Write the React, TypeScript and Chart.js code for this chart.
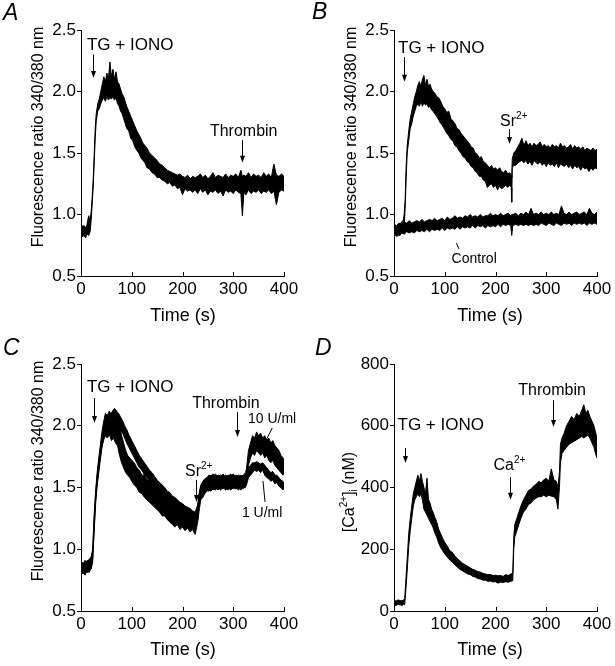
import React, { useEffect, useRef } from 'react';
import { Chart, registerables } from 'chart.js';

Chart.register(...registerables);

type Pt = [number, number, number]; // [time s, lower edge, upper edge]

const X_TICKS = [0, 100, 200, 300, 400];
const RATIO_TICKS = [0.5, 1.0, 1.5, 2.0, 2.5];
const CA_TICKS = [0, 200, 400, 600, 800];

// Panel A: 340/380 ratio, TG + IONO then thrombin
const A_TRACE: Pt[] = [
  [0,0.84,0.93],[3,0.82,0.90],[6,0.83,0.91],[9,0.81,0.89],[12,0.84,0.92],[15,0.83,0.99],[18,0.86,0.96],[20,0.95,1.02],
  [22,1.08,1.14],[24,1.22,1.28],[26,1.42,1.48],[28,1.62,1.70],[30,1.76,1.82],[33,1.84,1.90],[36,1.86,1.94],[39,1.90,2.00],
  [42,1.93,2.06],[45,1.95,2.12],[48,1.92,2.08],[51,1.96,2.15],[54,1.93,2.10],[57,1.95,2.24],[60,1.94,2.12],[63,1.96,2.18],
  [66,1.93,2.10],[69,1.95,2.16],[72,1.90,2.08],[75,1.88,2.06],[78,1.84,2.02],[81,1.82,1.98],[84,1.78,1.96],[87,1.74,1.92],
  [90,1.70,1.88],[94,1.68,1.84],[98,1.62,1.80],[102,1.60,1.76],[106,1.55,1.72],[110,1.52,1.68],[114,1.50,1.65],[118,1.46,1.62],
  [122,1.44,1.58],[126,1.42,1.56],[130,1.38,1.54],[135,1.37,1.50],[140,1.34,1.48],[145,1.33,1.46],[150,1.30,1.44],[155,1.30,1.41],
  [160,1.28,1.40],[165,1.27,1.38],[170,1.25,1.36],[175,1.26,1.35],[180,1.23,1.34],[185,1.24,1.33],[190,1.21,1.32],[195,1.22,1.33],
  [200,1.16,1.31],[205,1.21,1.30],[210,1.19,1.32],[215,1.20,1.29],[220,1.18,1.31],[225,1.20,1.30],[230,1.17,1.31],[235,1.21,1.33],
  [240,1.18,1.30],[245,1.20,1.32],[250,1.16,1.29],[255,1.19,1.31],[260,1.18,1.34],[265,1.20,1.30],[270,1.17,1.32],[275,1.19,1.31],
  [280,1.15,1.30],[285,1.20,1.33],[290,1.18,1.30],[295,1.19,1.32],[300,1.17,1.31],[305,1.20,1.33],[310,1.18,1.30],[315,1.17,1.36],
  [318,0.99,1.31],[321,1.18,1.32],[325,1.16,1.31],[330,1.20,1.34],[335,1.17,1.30],[340,1.19,1.33],[345,1.18,1.31],[350,1.20,1.32],
  [355,1.17,1.30],[360,1.19,1.34],[365,1.18,1.31],[370,1.20,1.33],[375,1.17,1.30],[380,1.19,1.41],[385,1.08,1.32],[390,1.18,1.31],
  [395,1.20,1.33],[400,1.19,1.31],
];

// Panel B: TG + IONO then Sr2+, and control
const B_TRACE: Pt[] = [
  [0,0.82,0.92],[3,0.84,0.91],[6,0.82,0.90],[9,0.84,0.92],[12,0.83,0.91],[15,0.85,0.94],[18,0.86,0.95],[20,0.90,1.00],
  [22,1.05,1.12],[24,1.30,1.40],[26,1.50,1.56],[29,1.60,1.68],[32,1.70,1.78],[35,1.74,1.84],[38,1.80,1.90],[41,1.84,1.96],
  [44,1.88,2.00],[47,1.90,2.05],[50,1.88,2.08],[53,1.92,2.04],[56,1.88,2.10],[59,1.91,2.13],[62,1.89,2.05],[65,1.90,2.10],
  [68,1.87,2.04],[71,1.88,2.06],[74,1.85,2.02],[77,1.84,2.00],[80,1.82,1.99],[84,1.80,1.96],[88,1.77,1.95],[92,1.74,1.92],
  [96,1.72,1.88],[100,1.69,1.86],[104,1.66,1.83],[108,1.64,1.84],[112,1.61,1.78],[116,1.60,1.76],[120,1.56,1.74],[124,1.55,1.70],
  [128,1.52,1.69],[132,1.50,1.66],[136,1.47,1.64],[140,1.46,1.62],[144,1.43,1.60],[148,1.42,1.58],[152,1.39,1.55],[156,1.38,1.54],
  [160,1.35,1.50],[164,1.34,1.49],[168,1.31,1.46],[172,1.31,1.47],[176,1.28,1.43],[180,1.27,1.42],[184,1.22,1.40],[188,1.24,1.38],
  [192,1.25,1.40],[196,1.22,1.37],[200,1.24,1.38],[204,1.20,1.36],[208,1.23,1.38],[212,1.21,1.35],[216,1.22,1.34],[220,1.24,1.36],
  [224,1.22,1.33],[228,1.24,1.34],[231,1.22,1.32],[232,1.10,1.30],[233,1.38,1.45],[236,1.40,1.50],[240,1.40,1.52],[244,1.42,1.55],
  [248,1.43,1.58],[252,1.44,1.62],[256,1.42,1.56],[260,1.44,1.60],[264,1.41,1.56],[268,1.43,1.58],[272,1.40,1.55],[276,1.44,1.58],
  [280,1.42,1.56],[284,1.41,1.57],[288,1.43,1.59],[292,1.40,1.55],[296,1.42,1.57],[300,1.39,1.55],[304,1.42,1.56],[308,1.40,1.54],
  [312,1.41,1.57],[316,1.39,1.55],[320,1.42,1.56],[324,1.38,1.54],[328,1.41,1.58],[332,1.40,1.55],[336,1.39,1.56],[340,1.41,1.54],
  [344,1.38,1.55],[348,1.40,1.57],[352,1.37,1.53],[356,1.40,1.56],[360,1.38,1.54],[364,1.39,1.55],[368,1.36,1.53],[372,1.39,1.55],
  [376,1.37,1.52],[380,1.38,1.54],[384,1.35,1.53],[388,1.38,1.52],[392,1.36,1.54],[396,1.38,1.52],[400,1.37,1.53],
];

const B_CONTROL: Pt[] = [
  [0,0.82,0.92],[5,0.84,0.91],[10,0.83,0.93],[15,0.85,0.92],[20,0.84,0.94],[25,0.86,0.93],[30,0.85,0.95],[35,0.86,0.93],
  [40,0.85,0.94],[45,0.87,0.95],[50,0.86,0.94],[55,0.87,0.96],[60,0.86,0.94],[65,0.88,0.95],[70,0.86,0.96],[75,0.88,0.95],
  [80,0.87,0.97],[85,0.88,0.95],[90,0.87,0.96],[95,0.89,0.97],[100,0.87,0.95],[105,0.89,0.98],[110,0.88,0.96],[115,0.89,0.97],
  [120,0.88,0.99],[125,0.90,0.97],[130,0.88,0.98],[135,0.90,0.97],[140,0.89,0.99],[145,0.90,0.98],[150,0.89,1.00],[155,0.91,0.98],
  [160,0.89,0.99],[165,0.91,0.98],[170,0.90,1.00],[175,0.91,0.98],[180,0.89,0.99],[185,0.91,0.99],[190,0.90,1.01],[195,0.91,0.99],
  [200,0.90,1.00],[205,0.92,0.99],[210,0.90,1.01],[215,0.92,0.99],[220,0.91,1.00],[225,0.92,1.01],[230,0.91,0.99],[232,0.83,1.00],
  [234,0.91,1.00],[240,0.92,1.01],[245,0.91,0.99],[250,0.92,1.01],[255,0.91,1.00],[260,0.92,1.02],[265,0.91,1.00],[270,0.92,1.05],
  [275,0.91,1.00],[280,0.92,1.01],[285,0.91,1.00],[290,0.93,1.02],[295,0.92,1.00],[300,0.91,1.01],[305,0.93,1.00],[310,0.92,1.02],
  [315,0.91,1.00],[320,0.93,1.01],[325,0.92,1.00],[330,0.91,1.07],[335,0.93,1.01],[340,0.92,1.00],[345,0.93,1.02],[350,0.91,1.00],
  [355,0.93,1.01],[360,0.92,1.02],[365,0.93,1.00],[370,0.92,1.01],[375,0.93,1.02],[380,0.91,1.00],[385,0.93,1.05],[390,0.92,1.01],
  [395,0.93,1.00],[400,0.92,1.02],
];

// Panel C: two cells, thrombin 10 U/ml and 1 U/ml
const C_10U: Pt[] = [
  [0,0.82,0.90],[4,0.80,0.88],[8,0.83,0.91],[12,0.81,0.89],[16,0.83,0.92],[20,0.84,0.93],[23,0.90,0.98],[26,1.15,1.25],
  [29,1.38,1.46],[32,1.52,1.60],[35,1.62,1.70],[38,1.72,1.80],[41,1.82,1.90],[44,1.88,1.97],[47,1.94,2.04],[50,1.96,2.06],
  [54,1.98,2.10],[58,1.97,2.08],[62,2.00,2.12],[66,2.02,2.14],[70,2.00,2.12],[74,1.98,2.10],[78,1.96,2.07],[82,1.94,2.04],
  [86,1.90,2.00],[90,1.86,1.97],[95,1.82,1.92],[100,1.78,1.88],[105,1.74,1.84],[110,1.70,1.80],[115,1.66,1.76],[120,1.64,1.73],
  [125,1.60,1.70],[130,1.58,1.67],[135,1.54,1.64],[140,1.52,1.62],[145,1.49,1.59],[150,1.47,1.56],[155,1.44,1.54],[160,1.42,1.52],
  [165,1.40,1.50],[170,1.37,1.47],[175,1.36,1.46],[180,1.33,1.43],[185,1.32,1.42],[190,1.30,1.40],[195,1.28,1.38],[200,1.27,1.37],
  [205,1.25,1.35],[210,1.24,1.34],[215,1.23,1.33],[220,1.21,1.31],[225,1.20,1.30],[230,1.24,1.36],[233,1.36,1.46],[236,1.42,1.52],
  [240,1.44,1.55],[244,1.46,1.57],[248,1.48,1.58],[252,1.47,1.60],[256,1.50,1.59],[260,1.48,1.61],[265,1.50,1.58],[270,1.48,1.60],
  [275,1.50,1.59],[280,1.49,1.61],[285,1.50,1.58],[290,1.48,1.60],[295,1.50,1.59],[300,1.49,1.61],[305,1.50,1.58],[310,1.48,1.60],
  [315,1.50,1.59],[320,1.49,1.60],[324,1.52,1.62],[326,1.55,1.65],[330,1.68,1.80],[334,1.74,1.86],[338,1.78,1.92],[342,1.76,1.90],
  [346,1.80,1.95],[350,1.78,1.92],[354,1.76,1.94],[358,1.78,1.90],[362,1.74,1.92],[366,1.76,1.88],[370,1.72,1.90],[374,1.70,1.86],
  [378,1.72,1.88],[382,1.68,1.84],[386,1.66,1.82],[390,1.64,1.80],[394,1.62,1.76],[398,1.60,1.74],[400,1.62,1.72],
];

const C_1U: Pt[] = [
  [0,0.80,0.90],[4,0.82,0.89],[8,0.79,0.88],[12,0.83,0.91],[16,0.81,0.90],[20,0.85,0.94],[23,0.92,1.00],[26,1.18,1.28],
  [29,1.40,1.48],[32,1.55,1.63],[35,1.65,1.74],[38,1.74,1.84],[41,1.82,1.94],[44,1.88,2.02],[48,1.92,2.10],[52,1.90,2.08],
  [56,1.93,2.12],[60,1.88,2.08],[64,1.90,2.10],[68,1.86,2.06],[72,1.84,2.04],[76,1.76,2.00],[80,1.70,1.92],[84,1.66,1.86],
  [88,1.62,1.80],[92,1.60,1.76],[96,1.58,1.74],[100,1.55,1.72],[105,1.52,1.70],[110,1.50,1.66],[115,1.46,1.64],[120,1.45,1.60],
  [125,1.42,1.60],[130,1.40,1.56],[135,1.38,1.55],[140,1.36,1.52],[145,1.34,1.50],[150,1.32,1.48],[155,1.30,1.46],[160,1.27,1.45],
  [165,1.27,1.42],[170,1.24,1.40],[175,1.22,1.40],[180,1.20,1.38],[185,1.18,1.36],[190,1.20,1.35],[195,1.16,1.34],[200,1.18,1.32],
  [205,1.15,1.33],[210,1.17,1.30],[215,1.14,1.31],[220,1.16,1.30],[225,1.12,1.28],[230,1.22,1.34],[233,1.32,1.44],[236,1.40,1.50],
  [240,1.42,1.54],[244,1.45,1.56],[248,1.47,1.57],[252,1.48,1.58],[256,1.47,1.60],[260,1.49,1.59],[265,1.48,1.61],[270,1.50,1.58],
  [275,1.48,1.60],[280,1.50,1.58],[285,1.48,1.60],[290,1.50,1.59],[295,1.48,1.61],[300,1.50,1.58],[305,1.49,1.60],[310,1.50,1.59],
  [315,1.48,1.60],[320,1.50,1.58],[324,1.50,1.60],[326,1.52,1.60],[330,1.58,1.66],[334,1.60,1.68],[338,1.62,1.70],[342,1.64,1.70],
  [346,1.63,1.71],[350,1.64,1.70],[354,1.62,1.69],[358,1.64,1.70],[362,1.60,1.68],[366,1.58,1.66],[370,1.57,1.64],[374,1.55,1.62],
  [378,1.56,1.63],[382,1.53,1.60],[386,1.54,1.60],[390,1.51,1.58],[394,1.50,1.56],[398,1.48,1.55],[400,1.50,1.54],
];

// Panel D: [Ca2+]i in nM
const D_TRACE: Pt[] = [
  [0,20,35],[4,18,32],[8,22,36],[12,20,34],[16,18,33],[19,22,36],[21,20,40],[23,60,90],[26,130,170],[29,210,250],[32,260,300],
  [35,300,340],[38,340,380],[41,360,400],[44,370,420],[47,380,440],[50,370,420],[53,380,445],[56,360,420],[59,330,400],[62,320,380],
  [65,310,430],[68,300,360],[71,290,350],[74,280,330],[77,270,320],[80,255,305],[84,240,290],[88,220,265],[92,205,250],[96,195,235],
  [100,185,222],[105,175,210],[110,165,195],[115,158,190],[120,150,178],[125,142,170],[130,135,162],[135,130,155],[140,125,150],
  [145,120,145],[150,118,140],[155,112,135],[160,110,132],[165,105,128],[170,104,126],[175,100,122],[180,100,120],[185,96,118],
  [190,97,118],[195,94,115],[200,95,116],[205,90,114],[210,94,115],[215,92,112],[220,95,118],[225,93,115],[230,96,120],[234,98,122],
  [236,200,240],[238,240,280],[242,260,300],[246,280,320],[250,300,340],[255,320,360],[260,330,375],[265,345,390],[270,350,395],
  [275,360,405],[280,365,410],[285,370,420],[290,370,415],[295,375,425],[300,370,430],[305,375,420],[310,372,460],[315,370,425],
  [320,360,420],[323,330,400],[326,400,450],[328,480,540],[331,510,560],[335,520,575],[340,530,600],[345,540,615],[350,545,630],
  [355,550,620],[360,555,640],[365,560,630],[370,565,650],[374,560,668],[378,565,640],[382,570,650],[386,560,630],[390,545,615],
  [394,530,600],[397,510,580],[400,495,560],
];

const W = 615;
const H = 666;
const YW = 40;
const XH = 30;
const FONT = "'Liberation Sans', Arial, Helvetica, sans-serif";

type Part = { t: string; sup?: boolean; sub?: boolean };
type Label = { parts: Part[]; t: number; v: number; size: number; align?: 'left' | 'center' };
type Arrow = { t: number; v1: number; v2: number };
type Seg = { t1: number; v1: number; t2: number; v2: number };

interface Panel {
  letter: string;
  letterPos: [number, number];
  area: { left: number; right: number; top: number; bottom: number };
  yTicks: number[];
  yDecimals: number;
  yTitle: Part[];
  yTitlePos: [number, number];
  xTitlePos: [number, number];
  traces: Pt[][];
  labels: Label[];
  arrows: Arrow[];
  segs: Seg[];
}

const RATIO_TITLE: Part[] = [{ t: 'Fluorescence ratio 340/380 nm' }];

const PANELS: Panel[] = [
  {
    letter: 'A', letterPos: [3, 20],
    area: { left: 81, right: 284, top: 30, bottom: 276 },
    yTicks: RATIO_TICKS, yDecimals: 1, yTitle: RATIO_TITLE, yTitlePos: [37.5, 137], xTitlePos: [183, 315],
    traces: [A_TRACE],
    labels: [
      { parts: [{ t: 'TG + IONO' }], t: 11.8, v: 2.34, size: 17 },
      { parts: [{ t: 'Thrombin' }], t: 254, v: 1.64, size: 16 },
    ],
    arrows: [{ t: 24, v1: 2.30, v2: 2.11 }, { t: 318, v1: 1.606, v2: 1.42 }],
    segs: [],
  },
  {
    letter: 'B', letterPos: [312, 19],
    area: { left: 394, right: 597, top: 30, bottom: 276 },
    yTicks: RATIO_TICKS, yDecimals: 1, yTitle: RATIO_TITLE, yTitlePos: [350, 137], xTitlePos: [490, 315],
    traces: [B_TRACE, B_CONTROL],
    labels: [
      { parts: [{ t: 'TG + IONO' }], t: 7.9, v: 2.31, size: 17 },
      { parts: [{ t: 'Sr' }, { t: '2+', sup: true }], t: 209, v: 1.72, size: 16 },
      { parts: [{ t: 'Control' }], t: 158, v: 0.606, size: 14, align: 'center' },
    ],
    arrows: [{ t: 20, v1: 2.28, v2: 2.08 }, { t: 227, v1: 1.695, v2: 1.573 }],
    segs: [{ t1: 123, v1: 0.768, t2: 128, v2: 0.72 }],
  },
  {
    letter: 'C', letterPos: [3, 355],
    area: { left: 81, right: 284, top: 364, bottom: 611 },
    yTicks: RATIO_TICKS, yDecimals: 1, yTitle: RATIO_TITLE, yTitlePos: [37.5, 471], xTitlePos: [183, 649],
    traces: [C_10U, C_1U],
    labels: [
      { parts: [{ t: 'TG + IONO' }], t: 11.8, v: 2.273, size: 17 },
      { parts: [{ t: 'Thrombin' }], t: 219, v: 2.144, size: 16 },
      { parts: [{ t: 'Sr' }, { t: '2+', sup: true }], t: 205, v: 1.593, size: 16 },
      { parts: [{ t: '10 U/ml' }], t: 329, v: 2.022, size: 14 },
      { parts: [{ t: '1 U/ml' }], t: 317, v: 1.261, size: 14 },
    ],
    arrows: [{ t: 26, v1: 2.225, v2: 2.022 }, { t: 308, v1: 2.111, v2: 1.909 }, { t: 227, v1: 1.561, v2: 1.383 }],
    segs: [{ t1: 376.8, v1: 1.982, t2: 363, v2: 1.868 }, { t1: 362.6, v1: 1.383, t2: 358.6, v2: 1.553 }],
  },
  {
    letter: 'D', letterPos: [315, 355],
    area: { left: 394, right: 597, top: 364, bottom: 611 },
    yTicks: CA_TICKS, yDecimals: 0,
    yTitle: [{ t: '[Ca' }, { t: '2+', sup: true }, { t: ']' }, { t: 'i', sub: true }, { t: ' (nM)' }],
    yTitlePos: [348, 492], xTitlePos: [490, 649],
    traces: [D_TRACE],
    labels: [
      { parts: [{ t: 'TG + IONO' }], t: 6.9, v: 586, size: 17 },
      { parts: [{ t: 'Ca' }, { t: '2+', sup: true }], t: 196, v: 457, size: 16 },
      { parts: [{ t: 'Thrombin' }], t: 245, v: 700, size: 16 },
    ],
    arrows: [{ t: 21, v1: 528, v2: 479 }, { t: 228, v1: 434, v2: 360 }, { t: 314, v1: 683, v2: 596 }],
    segs: [],
  },
];

function partFont(p: Part, size: number) {
  const s = p.sup || p.sub ? Math.round(size * 0.65) : size;
  return `${s}px ${FONT}`;
}

function richWidth(ctx: CanvasRenderingContext2D, parts: Part[], size: number) {
  let w = 0;
  for (const p of parts) {
    ctx.font = partFont(p, size);
    w += ctx.measureText(p.t).width;
  }
  return w;
}

function drawRich(ctx: CanvasRenderingContext2D, parts: Part[], x: number, y: number, size: number, align: 'left' | 'center') {
  let cx = align === 'center' ? x - richWidth(ctx, parts, size) / 2 : x;
  ctx.textAlign = 'left';
  ctx.textBaseline = 'alphabetic';
  for (const p of parts) {
    ctx.font = partFont(p, size);
    const dy = p.sup ? -size * 0.42 : p.sub ? size * 0.22 : 0;
    ctx.fillText(p.t, cx, y + dy);
    cx += ctx.measureText(p.t).width;
  }
}

function makeDecor(panel: Panel) {
  return {
    id: 'decor' + panel.letter,
    afterDraw(chart: any) {
      const ctx: CanvasRenderingContext2D = chart.ctx;
      const xs = chart.scales.x;
      const ys = chart.scales.y;
      const bottom = chart.chartArea.bottom;
      ctx.save();
      ctx.strokeStyle = '#000';
      ctx.fillStyle = '#000';
      ctx.lineWidth = 1;
      // inward x ticks
      for (const v of X_TICKS) {
        const px = Math.round(xs.getPixelForValue(v)) + 0.5;
        ctx.beginPath();
        ctx.moveTo(px, bottom);
        ctx.lineTo(px, bottom - 4);
        ctx.stroke();
      }
      // labels
      for (const l of panel.labels) {
        drawRich(ctx, l.parts, xs.getPixelForValue(l.t), ys.getPixelForValue(l.v), l.size, l.align || 'left');
      }
      // arrows
      for (const a of panel.arrows) {
        const px = Math.round(xs.getPixelForValue(a.t)) + 0.5;
        const y1 = ys.getPixelForValue(a.v1);
        const y2 = ys.getPixelForValue(a.v2);
        ctx.beginPath();
        ctx.moveTo(px, y1);
        ctx.lineTo(px, y2 - 5);
        ctx.stroke();
        ctx.beginPath();
        ctx.moveTo(px - 2.5, y2 - 7);
        ctx.lineTo(px + 2.5, y2 - 7);
        ctx.lineTo(px, y2);
        ctx.closePath();
        ctx.fill();
      }
      for (const s of panel.segs) {
        ctx.beginPath();
        ctx.moveTo(xs.getPixelForValue(s.t1), ys.getPixelForValue(s.v1));
        ctx.lineTo(xs.getPixelForValue(s.t2), ys.getPixelForValue(s.v2));
        ctx.stroke();
      }
      // panel letter
      ctx.font = `italic 23px ${FONT}`;
      ctx.textAlign = 'left';
      ctx.textBaseline = 'alphabetic';
      ctx.fillText(panel.letter, panel.letterPos[0], panel.letterPos[1]);
      // x title
      drawRich(ctx, [{ t: 'Time (s)' }], panel.xTitlePos[0], panel.xTitlePos[1] + 18 * 0.35, 18, 'center');
      // y title
      ctx.translate(panel.yTitlePos[0], panel.yTitlePos[1]);
      ctx.rotate(-Math.PI / 2);
      drawRich(ctx, panel.yTitle, 0, 16 * 0.35, 16, 'center');
      ctx.restore();
    },
  };
}

function buildDatasets(panel: Panel) {
  const ds: any[] = [];
  for (const tr of panel.traces) {
    ds.push({
      data: tr.map((p) => ({ x: p[0], y: p[1] })),
      borderColor: '#000', borderWidth: 1, pointRadius: 0, fill: false, tension: 0,
    });
    ds.push({
      data: tr.map((p) => ({ x: p[0], y: p[2] })),
      borderColor: '#000', borderWidth: 1, pointRadius: 0, fill: '-1', backgroundColor: '#000', tension: 0,
    });
  }
  return ds;
}

function zeroPad(s: any) {
  s.paddingLeft = 0;
  s.paddingRight = 0;
  s.paddingTop = 0;
  s.paddingBottom = 0;
}

function PanelCanvas({ panel }: { panel: Panel }) {
  const ref = useRef<HTMLCanvasElement | null>(null);
  useEffect(() => {
    if (!ref.current) return;
    const a = panel.area;
    const tickFont = { family: FONT, size: 17 };
    const chart = new Chart(ref.current, {
      type: 'line',
      data: { datasets: buildDatasets(panel) },
      options: {
        animation: false,
        responsive: false,
        devicePixelRatio: 1,
        events: [],
        layout: { padding: { left: a.left - YW, right: W - a.right, top: a.top, bottom: H - a.bottom - XH } },
        plugins: { legend: { display: false }, tooltip: { enabled: false } },
        scales: {
          x: {
            type: 'linear',
            min: X_TICKS[0],
            max: X_TICKS[X_TICKS.length - 1],
            afterBuildTicks: (s: any) => { s.ticks = X_TICKS.map((v) => ({ value: v })); },
            afterFit: (s: any) => { s.height = XH; zeroPad(s); },
            ticks: { font: tickFont, color: '#000', padding: 3, maxRotation: 0, autoSkip: false },
            grid: { display: true, drawOnChartArea: false, drawTicks: false },
            border: { display: true, color: '#000', width: 1 },
          },
          y: {
            type: 'linear',
            min: panel.yTicks[0],
            max: panel.yTicks[panel.yTicks.length - 1],
            afterBuildTicks: (s: any) => { s.ticks = panel.yTicks.map((v) => ({ value: v })); },
            afterFit: (s: any) => { s.width = YW; zeroPad(s); },
            ticks: {
              font: tickFont, color: '#000', padding: 1,
              callback: (v: any) => Number(v).toFixed(panel.yDecimals),
            },
            grid: { display: true, drawOnChartArea: false, drawTicks: true, tickLength: 4, color: '#000' },
            border: { display: true, color: '#000', width: 1 },
          },
        },
      } as any,
      plugins: [makeDecor(panel)],
    });
    return () => chart.destroy();
  }, [panel]);
  return (
    <canvas
      ref={ref}
      width={W}
      height={H}
      style={{ position: 'absolute', left: 0, top: 0, width: W, height: H }}
    />
  );
}

export default function App() {
  return (
    <div style={{ position: 'absolute', left: 0, top: 0, width: W, height: H, background: '#fff' }}>
      {PANELS.map((p) => (
        <PanelCanvas key={p.letter} panel={p} />
      ))}
    </div>
  );
}
